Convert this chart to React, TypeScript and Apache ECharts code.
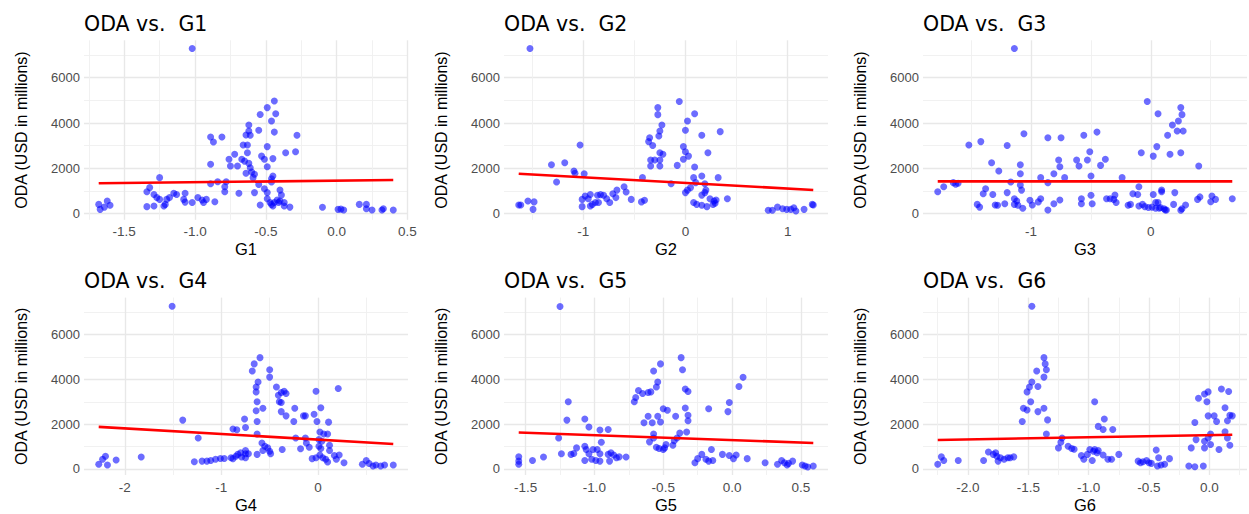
import React, { useEffect, useRef } from "react";
import * as echarts from "echarts";

// ---------- data ----------
const G1 = [-1.02, -1.68, -1.62, -1.6, -1.67, -1.64, -1.25, -1.32, -1.34, -1.29, -1.27, -1.25, -1.21, -1.22, -1.34, -1.29, -1.2, -1.18, -1.15, -1.13, -1.07, -1.08, -1.07, -1.02, -0.98, -0.95, -0.94, -0.92, -0.86, -0.89, -0.87, -0.81, -0.89, -0.84, -0.78, -0.89, -0.79, -0.79, -0.76, -0.72, -0.75, -0.7, -0.69, -0.67, -0.66, -0.63, -0.63, -0.62, -0.64, -0.62, -0.61, -0.55, -0.65, -0.62, -0.61, -0.64, -0.6, -0.58, -0.59, -0.55, -0.58, -0.54, -0.54, -0.49, -0.44, -0.46, -0.43, -0.44, -0.49, -0.53, -0.51, -0.49, -0.45, -0.45, -0.46, -0.46, -0.51, -0.49, -0.49, -0.47, -0.46, -0.44, -0.42, -0.41, -0.45, -0.4, -0.4, -0.39, -0.37, -0.37, -0.33, -0.36, -0.29, -0.28, -0.1, 0.01, 0.05, 0.03, 0.16, 0.21, 0.21, 0.25, 0.32, 0.33, 0.4];
const ODA1 = [7290, 410, 560, 370, 190, 290, 1590, 1150, 970, 850, 710, 630, 410, 340, 310, 340, 630, 710, 900, 850, 900, 630, 510, 490, 710, 600, 490, 630, 530, 3380, 3160, 3380, 2180, 1410, 1410, 1320, 1190, 970, 2400, 2620, 2100, 2100, 900, 2400, 3030, 3030, 2690, 3910, 3470, 3650, 3460, 3680, 2320, 2220, 2030, 1780, 1840, 1740, 1590, 1290, 930, 380, 4380, 4680, 4970, 4090, 4410, 3600, 2960, 2540, 2400, 2070, 2430, 1660, 1540, 1400, 1100, 930, 660, 490, 410, 490, 600, 490, 340, 560, 1040, 820, 490, 340, 290, 2690, 2730, 3460, 280, 190, 160, 200, 410, 410, 220, 160, 160, 220, 160];

const G2 = [-1.52, -1.63, -1.61, -1.54, -1.48, -1.49, -1.31, -1.18, -1.26, -1.09, -1.08, -0.99, -1.03, -1.01, -1.01, -0.98, -0.95, -0.93, -0.91, -0.88, -0.85, -0.86, -0.83, -0.8, -0.77, -0.74, -0.71, -0.68, -0.67, -0.6, -0.58, -0.53, -0.43, -0.4, -0.42, -0.93, -0.27, -0.27, -0.23, -0.25, -0.26, -0.35, -0.36, -0.32, -0.25, -0.22, -0.34, -0.3, -0.25, -0.34, -0.25, -0.06, 0.02, 0.09, 0.0, 0.16, 0.34, -0.02, 0.0, 0.03, -0.02, -0.08, 0.09, 0.22, -0.14, 0.08, 0.16, 0.32, 0.1, 0.19, 0.05, 0.02, 0.0, 0.2, 0.19, 0.16, 0.41, 0.08, 0.11, 0.16, 0.21, 0.24, 0.28, 0.3, 0.29, 0.27, 0.81, 0.85, 0.9, 0.95, 0.99, 1.03, 1.06, 1.08, 1.16, 1.24, 1.25];
const ODA2 = [7290, 380, 380, 560, 520, 190, 2160, 2250, 1400, 1880, 1780, 1760, 3030, 630, 310, 780, 660, 850, 410, 490, 490, 810, 840, 810, 660, 490, 880, 710, 1040, 1190, 960, 630, 520, 590, 1590, 340, 4680, 4370, 3910, 3650, 3430, 3350, 3180, 3010, 2690, 2620, 2370, 2370, 2370, 2100, 2100, 4950, 4090, 4410, 3680, 3460, 3620, 2960, 2730, 2540, 2400, 2130, 2060, 2690, 1320, 1590, 1660, 1590, 1370, 1320, 1150, 1040, 930, 1040, 930, 820, 660, 490, 410, 370, 310, 660, 560, 600, 460, 410, 150, 150, 290, 220, 190, 190, 260, 120, 190, 410, 380];

const G3 = [-1.14, -1.78, -1.73, -1.65, -1.61, -1.63, -1.52, -1.42, -1.33, -1.27, -1.2, -1.17, -1.09, -1.09, -1.09, -1.08, -1.06, -1.38, -1.4, -1.32, -1.45, -1.43, -1.3, -1.28, -1.22, -1.2, -1.14, -1.12, -1.14, -1.11, -1.07, -1.01, -0.99, -0.94, -0.92, -0.92, -0.86, -0.86, -0.86, -0.81, -0.81, -0.77, -0.76, -0.75, -0.76, -0.72, -0.62, -0.6, -0.58, -0.58, -0.56, -0.53, -0.51, -0.5, -0.5, -0.49, -0.45, -0.42, -0.38, -0.37, -0.34, -0.3, -0.31, -0.29, -0.24, -0.19, -0.17, -0.15, -0.11, -0.1, -0.08, -0.1, -0.07, -0.05, -0.02, -0.03, 0.02, 0.02, 0.04, 0.05, 0.06, 0.06, 0.07, 0.09, 0.09, 0.11, 0.12, 0.13, 0.14, 0.16, 0.18, 0.23, 0.22, 0.25, 0.26, 0.27, 0.25, 0.2, 0.19, 0.25, 0.26, 0.29, 0.4, 0.39, 0.41, 0.5, 0.51, 0.54, 0.68, 0.01, 0.04, 0.08];
const ODA3 = [7290, 970, 1190, 1370, 1340, 1300, 3030, 3180, 2250, 1880, 3010, 1400, 2160, 1760, 1260, 1040, 3530, 1100, 880, 850, 410, 290, 380, 370, 440, 930, 660, 560, 410, 370, 240, 590, 380, 520, 660, 1590, 3350, 1370, 160, 1760, 440, 2370, 2070, 3350, 600, 1590, 2370, 2100, 660, 440, 3460, 2370, 2730, 1660, 810, 440, 3600, 2130, 2400, 660, 660, 820, 630, 490, 1590, 370, 410, 880, 850, 1190, 2690, 340, 410, 310, 270, 4950, 2540, 850, 490, 2960, 4410, 490, 240, 1040, 970, 220, 160, 160, 3460, 2620, 3910, 4090, 3650, 4680, 4370, 3650, 2690, 930, 410, 150, 220, 380, 2100, 630, 740, 530, 780, 630, 660, 290, 240, 270];

const G4 = [-1.51, -2.27, -2.23, -2.2, -2.18, -2.09, -1.83, -1.4, -1.24, -1.28, -1.2, -1.15, -1.11, -1.06, -1.01, -0.97, -0.9, -0.88, -0.85, -0.83, -0.8, -0.79, -0.75, -0.75, -0.75, -0.72, -0.88, -0.84, -0.75, -0.76, -0.68, -0.66, -0.6, -0.62, -0.64, -0.64, -0.63, -0.64, -0.63, -0.63, -0.57, -0.58, -0.63, -0.55, -0.52, -0.5, -0.49, -0.57, -0.5, -0.5, -0.43, -0.41, -0.38, -0.35, -0.33, -0.4, -0.38, -0.38, -0.33, -0.37, -0.25, -0.24, -0.15, -0.13, -0.04, -0.02, 0.03, -0.01, 0.21, 0.11, -0.23, -0.13, -0.12, -0.18, -0.09, 0.02, 0.06, 0.1, 0.01, 0.04, 0.01, 0.03, 0.12, 0.12, -0.06, -0.02, 0.02, 0.05, 0.08, 0.1, 0.19, 0.22, 0.17, 0.27, 0.46, 0.5, 0.53, 0.57, 0.6, 0.65, 0.69, 0.78];
const ODA4 = [7260, 210, 430, 570, 180, 400, 530, 2180, 1380, 320, 350, 350, 380, 430, 470, 470, 500, 460, 570, 650, 720, 530, 680, 820, 500, 680, 1780, 1750, 1850, 2230, 4370, 4690, 4970, 3880, 3660, 3440, 3000, 2600, 2120, 1560, 2710, 1160, 650, 1010, 940, 790, 680, 820, 4430, 4100, 3660, 3290, 3410, 3470, 3370, 3000, 2970, 2560, 2370, 870, 2120, 2710, 2370, 2370, 2440, 3470, 2730, 2120, 3590, 2090, 1380, 1380, 1160, 900, 970, 1650, 1560, 1560, 1310, 1240, 1010, 910, 1060, 820, 460, 500, 620, 500, 430, 310, 430, 620, 600, 280, 210, 380, 240, 130, 180, 130, 180, 180];

const G5 = [-1.25, -1.55, -1.55, -1.55, -1.45, -1.37, -1.19, -1.2, -1.26, -1.24, -1.17, -1.15, -1.13, -1.07, -1.04, -1.07, -1.06, -1.04, -1.07, -1.02, -0.99, -0.96, -1.01, -0.98, -0.96, -0.96, -0.9, -0.95, -0.9, -0.88, -0.86, -0.84, -0.82, -0.89, -0.77, -0.71, -0.7, -0.68, -0.65, -0.61, -0.59, -0.55, -0.54, -0.57, -0.52, -0.37, -0.36, -0.34, -0.32, -0.34, -0.32, -0.32, -0.5, -0.47, -0.41, -0.64, -0.61, -0.58, -0.54, -0.52, -0.57, -0.38, -0.33, -0.6, -0.57, -0.55, -0.53, -0.5, -0.49, -0.48, -0.43, -0.42, -0.4, -0.27, -0.25, -0.22, -0.19, -0.17, -0.15, -0.14, -0.17, -0.07, -0.03, -0.02, -0.02, 0.01, 0.03, 0.05, 0.08, 0.11, 0.24, 0.33, 0.36, 0.38, 0.4, 0.41, 0.44, 0.51, 0.53, 0.55, 0.59];
const ODA5 = [7250, 540, 350, 210, 380, 530, 3000, 2180, 1380, 680, 650, 690, 940, 2230, 1870, 1010, 870, 680, 380, 430, 380, 350, 870, 870, 680, 1740, 1760, 1190, 650, 720, 620, 500, 540, 350, 530, 3000, 3190, 3500, 3370, 3410, 3440, 3660, 3880, 4370, 4690, 4970, 4430, 3570, 3460, 2720, 2400, 2150, 2690, 2620, 2350, 2060, 2350, 2060, 2350, 2100, 1560, 1600, 1650, 1210, 1380, 970, 910, 870, 940, 1090, 1060, 1260, 1380, 280, 460, 650, 430, 350, 870, 380, 2690, 650, 2560, 2970, 600, 460, 620, 3680, 4090, 460, 280, 210, 380, 280, 180, 250, 350, 180, 130, 90, 130];

const G6 = [-1.47, -2.25, -2.22, -2.2, -2.08, -1.87, -1.83, -1.79, -1.77, -1.76, -1.75, -1.73, -1.7, -1.67, -1.65, -1.62, -1.55, -1.54, -1.51, -1.51, -1.49, -1.47, -1.48, -1.43, -1.42, -1.42, -1.37, -1.36, -1.35, -1.37, -1.37, -1.34, -1.35, -1.22, -1.23, -1.25, -1.17, -1.14, -1.12, -1.06, -1.04, -1.01, -0.99, -0.97, -0.96, -0.95, -0.93, -0.92, -0.95, -0.92, -0.87, -0.88, -0.8, -0.88, -0.84, -0.81, -0.75, -0.59, -0.57, -0.55, -0.52, -0.5, -0.48, -0.44, -0.42, -0.43, -0.4, -0.37, -0.33, -0.17, -0.12, -0.05, -0.15, -0.11, -0.12, -0.09, -0.04, -0.01, -0.02, -0.01, -0.04, -0.04, -0.01, 0.01, 0.01, 0.04, 0.06, 0.08, 0.1, 0.16, 0.13, 0.15, 0.17, 0.19, 0.13, 0.15, 0.17];
const ODA6 = [7260, 210, 540, 380, 380, 380, 760, 650, 720, 570, 350, 500, 430, 500, 500, 540, 2120, 2710, 2630, 3440, 3660, 3880, 3000, 4370, 3680, 2560, 4970, 4690, 4430, 4100, 2710, 2190, 1560, 1380, 1190, 940, 1010, 910, 880, 600, 430, 650, 870, 380, 790, 870, 720, 820, 3000, 1900, 2230, 1760, 1760, 620, 430, 430, 650, 350, 280, 320, 380, 280, 250, 850, 500, 130, 180, 210, 460, 130, 100, 130, 940, 1310, 2070, 3160, 3350, 3440, 3000, 2370, 1240, 940, 1380, 1560, 1090, 2370, 2120, 870, 3570, 3460, 2730, 2150, 2400, 2370, 1660, 1380, 1060];

// fitted lines (end points)
const FIT_X = [[-1.68, 0.4], [-1.63, 1.25], [-1.78, 0.68], [-2.27, 0.78], [-1.55, 0.59], [-2.25, 0.19]];
const FIT_Y = [[1340, 1485], [1760, 1045], [1425, 1425], [1880, 1115], [1630, 1160], [1295, 1530]];

// tick labels
const X_MAJOR = [[-1.5, -1, -0.5, 0, 0.5], [-1, 0, 1], [-1, 0], [-2, -1, 0], [-1.5, -1, -0.5, 0, 0.5], [-2, -1.5, -1, -0.5, 0]];
const X_MINOR = [[-1.75, -1.25, -0.75, -0.25, 0.25], [-1.5, -0.5, 0.5], [-1.5, -0.5, 0.5], [-1.5, -0.5, 0.5], [-1.25, -0.75, -0.25, 0.25], [-2.25, -1.75, -1.25, -0.75, -0.25, 0.25]];
const X_DECIMALS = [1, 0, 0, 0, 1, 1];
const Y_MAJOR = [0, 2000, 4000, 6000];
const Y_MINOR = [1000, 3000, 5000, 7000];
const NAMES = ["G1", "G2", "G3", "G4", "G5", "G6"];
const XS = [G1, G2, G3, G4, G5, G6];
const YS = [ODA1, ODA2, ODA3, ODA4, ODA5, ODA6];

const LEFTS = [84, 504, 923];
const TOPS = [40.3, 297.6];
const W = 324;
const H = 179.5;

const FONT = "'Liberation Sans', Arial, sans-serif";

function expand(arr: number[]) {
  const lo = Math.min(...arr);
  const hi = Math.max(...arr);
  const pad = (hi - lo) * 0.05;
  return [lo - pad, hi + pad];
}

export default function App() {
  const ref = useRef<HTMLDivElement>(null);
  useEffect(() => {
    const chart = echarts.init(ref.current!, null, { renderer: "svg" });
    const allY = ([] as number[]).concat(...YS);
    const [yMin, yMax] = expand(allY);
    const grids: any[] = [];
    const xAxes: any[] = [];
    const yAxes: any[] = [];
    const series: any[] = [];
    const titles: any[] = [];
    for (let i = 0; i < 6; i++) {
      const left = LEFTS[i % 3];
      const top = TOPS[Math.floor(i / 3)];
      grids.push({ left, top, width: W, height: H, containLabel: false });
      const [xMin, xMax] = expand(XS[i]);
      const dec = X_DECIMALS[i];
      xAxes.push({
        type: "value", gridIndex: i, min: xMin, max: xMax, position: "bottom",
        axisLine: { show: false },
        axisTick: { show: false, customValues: X_MAJOR[i] },
        axisLabel: {
          customValues: X_MAJOR[i], margin: 5, color: "#4d4d4d", fontSize: 13.5, fontFamily: FONT,
          formatter: (v: number) => v.toFixed(dec),
        },
        splitLine: { show: true, lineStyle: { color: "#E8E8E8", width: 1.4 } },
        name: NAMES[i], nameLocation: "middle", nameGap: 21,
        nameTextStyle: { fontSize: 16.5, color: "#000", fontFamily: FONT },
      });
      xAxes.push({
        type: "value", gridIndex: i, min: xMin, max: xMax, position: "top",
        axisLine: { show: false },
        axisTick: { show: false, customValues: X_MINOR[i] },
        axisLabel: { show: false, customValues: X_MINOR[i] },
        splitLine: { show: true, lineStyle: { color: "#EFEFEF", width: 0.9 } },
      });
      yAxes.push({
        type: "value", gridIndex: i, min: yMin, max: yMax, position: "left",
        axisLine: { show: false },
        axisTick: { show: false, customValues: Y_MAJOR },
        axisLabel: {
          customValues: Y_MAJOR, margin: 4, color: "#4d4d4d", fontSize: 13, fontFamily: FONT,
          formatter: (v: number) => String(v),
        },
        splitLine: { show: true, lineStyle: { color: "#E8E8E8", width: 1.4 } },
        name: "ODA (USD in millions)", nameLocation: "middle", nameGap: 55,
        nameTextStyle: { fontSize: 16, color: "#000", fontFamily: FONT },
      });
      yAxes.push({
        type: "value", gridIndex: i, min: yMin, max: yMax, position: "right",
        axisLine: { show: false },
        axisTick: { show: false, customValues: Y_MINOR },
        axisLabel: { show: false, customValues: Y_MINOR },
        splitLine: { show: true, lineStyle: { color: "#EFEFEF", width: 0.9 } },
      });
      series.push({
        type: "scatter", xAxisIndex: 2 * i, yAxisIndex: 2 * i, symbolSize: 7,
        itemStyle: { color: "rgba(0,0,255,0.72)" },
        data: XS[i].map((x, k) => [x, YS[i][k]]), z: 2,
      });
      series.push({
        type: "line", xAxisIndex: 2 * i, yAxisIndex: 2 * i, showSymbol: false,
        lineStyle: { color: "#FF0000", width: 2.6 },
        data: FIT_X[i].map((x, k) => [x, FIT_Y[i][k]]), z: 3,
      });
      titles.push({
        text: "ODA vs.  " + NAMES[i], left, top: top - 27, padding: 0,
        textStyle: { fontSize: 20.5, fontWeight: "normal", color: "#000", fontFamily: "'DejaVu Sans', sans-serif" },
      });
    }
    chart.setOption({
      animation: false,
      backgroundColor: "#fff",
      title: titles,
      grid: grids,
      xAxis: xAxes,
      yAxis: yAxes,
      series,
    });
    return () => chart.dispose();
  }, []);
  return <div ref={ref} style={{ position: "absolute", left: 0, top: 0, width: 1249, height: 514, background: "#fff" }} />;
}
